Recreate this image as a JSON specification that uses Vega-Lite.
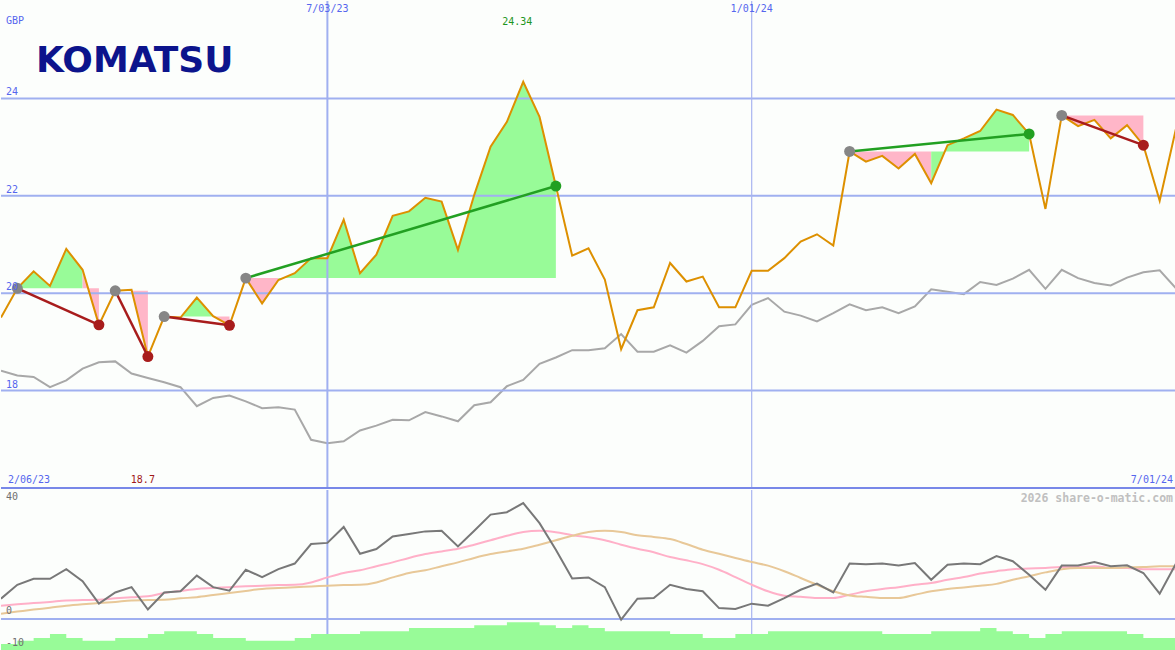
{
"$schema":"https://vega.github.io/schema/vega-lite/v6.json",
"background":"#fcfefc",
"padding":0,
"spacing":0,
"config":{"view":{"stroke":null}},
"datasets":{
"weekly":[
{"d":"2023-02-13","p":19.50,"g":18.41,"m":6.9,"pk":4.5,"tn":1.8,"v":90},
{"d":"2023-02-20","p":20.10,"g":18.31,"m":11.6,"pk":5.0,"tn":2.5,"v":123},
{"d":"2023-02-27","p":20.45,"g":18.28,"m":13.6,"pk":5.4,"tn":3.2,"v":150},
{"d":"2023-03-06","p":20.15,"g":18.07,"m":13.6,"pk":5.8,"tn":3.8,"v":190},
{"d":"2023-03-13","p":20.91,"g":18.21,"m":16.9,"pk":6.3,"tn":4.5,"v":150},
{"d":"2023-03-20","p":20.48,"g":18.45,"m":12.8,"pk":6.4,"tn":5.0,"v":123},
{"d":"2023-03-27","p":19.35,"g":18.58,"m":5.2,"pk":6.5,"tn":5.4,"v":123},
{"d":"2023-04-03","p":20.05,"g":18.60,"m":9.0,"pk":7.0,"tn":5.8,"v":150},
{"d":"2023-04-10","p":20.07,"g":18.35,"m":10.8,"pk":7.4,"tn":6.3,"v":150},
{"d":"2023-04-17","p":18.70,"g":18.26,"m":3.2,"pk":7.7,"tn":6.4,"v":190},
{"d":"2023-04-24","p":19.52,"g":18.17,"m":9.0,"pk":8.8,"tn":6.5,"v":217},
{"d":"2023-05-01","p":19.50,"g":18.07,"m":9.4,"pk":9.5,"tn":7.0,"v":217},
{"d":"2023-05-08","p":19.91,"g":17.68,"m":14.7,"pk":10.2,"tn":7.4,"v":190},
{"d":"2023-05-15","p":19.53,"g":17.85,"m":10.8,"pk":10.5,"tn":8.1,"v":150},
{"d":"2023-05-22","p":19.34,"g":17.90,"m":9.6,"pk":10.8,"tn":8.8,"v":150},
{"d":"2023-05-29","p":20.31,"g":17.78,"m":16.7,"pk":11.1,"tn":9.5,"v":123},
{"d":"2023-06-05","p":19.79,"g":17.64,"m":14.2,"pk":11.3,"tn":10.2,"v":123},
{"d":"2023-06-12","p":20.27,"g":17.66,"m":16.9,"pk":11.5,"tn":10.5,"v":123},
{"d":"2023-06-19","p":20.41,"g":17.61,"m":18.8,"pk":11.6,"tn":10.8,"v":150},
{"d":"2023-06-26","p":20.72,"g":16.99,"m":25.4,"pk":12.4,"tn":11.0,"v":190},
{"d":"2023-07-03","p":20.72,"g":16.92,"m":25.8,"pk":14.1,"tn":11.3,"v":190},
{"d":"2023-07-10","p":21.51,"g":16.96,"m":31.2,"pk":15.6,"tn":11.5,"v":190},
{"d":"2023-07-17","p":20.41,"g":17.18,"m":22.1,"pk":16.5,"tn":11.6,"v":217},
{"d":"2023-07-24","p":20.79,"g":17.28,"m":23.7,"pk":17.9,"tn":12.4,"v":217},
{"d":"2023-07-31","p":21.59,"g":17.40,"m":28.0,"pk":19.2,"tn":14.1,"v":217},
{"d":"2023-08-07","p":21.68,"g":17.39,"m":28.8,"pk":20.7,"tn":15.6,"v":250},
{"d":"2023-08-14","p":21.96,"g":17.56,"m":29.7,"pk":22.0,"tn":16.5,"v":250},
{"d":"2023-08-21","p":21.88,"g":17.47,"m":29.9,"pk":22.9,"tn":17.9,"v":250},
{"d":"2023-08-28","p":20.89,"g":17.37,"m":24.6,"pk":23.8,"tn":19.2,"v":250},
{"d":"2023-09-04","p":22.02,"g":17.70,"m":29.9,"pk":25.2,"tn":20.7,"v":277},
{"d":"2023-09-11","p":23.01,"g":17.76,"m":35.4,"pk":26.7,"tn":22.0,"v":277},
{"d":"2023-09-18","p":23.52,"g":18.09,"m":36.2,"pk":28.2,"tn":22.9,"v":307},
{"d":"2023-09-25","p":24.34,"g":18.22,"m":39.3,"pk":29.5,"tn":23.8,"v":307},
{"d":"2023-10-02","p":23.62,"g":18.55,"m":32.5,"pk":29.9,"tn":25.2,"v":277},
{"d":"2023-10-09","p":22.20,"g":18.68,"m":23.5,"pk":29.4,"tn":26.7,"v":250},
{"d":"2023-10-16","p":20.77,"g":18.83,"m":13.7,"pk":28.4,"tn":28.2,"v":277},
{"d":"2023-10-23","p":20.92,"g":18.83,"m":14.1,"pk":27.7,"tn":29.5,"v":250},
{"d":"2023-10-30","p":20.28,"g":18.87,"m":10.8,"pk":26.7,"tn":29.9,"v":217},
{"d":"2023-11-06","p":18.85,"g":19.16,"m":-0.2,"pk":25.2,"tn":29.5,"v":217},
{"d":"2023-11-13","p":19.65,"g":18.80,"m":6.9,"pk":23.8,"tn":28.4,"v":217},
{"d":"2023-11-20","p":19.71,"g":18.80,"m":7.1,"pk":22.6,"tn":27.8,"v":217},
{"d":"2023-11-27","p":20.62,"g":18.93,"m":11.6,"pk":21.0,"tn":27.1,"v":190},
{"d":"2023-12-04","p":20.24,"g":18.78,"m":10.2,"pk":19.9,"tn":25.4,"v":190},
{"d":"2023-12-11","p":20.34,"g":19.02,"m":9.4,"pk":18.6,"tn":23.5,"v":150},
{"d":"2023-12-18","p":19.71,"g":19.32,"m":3.7,"pk":16.7,"tn":22.1,"v":150},
{"d":"2023-12-25","p":19.71,"g":19.36,"m":3.4,"pk":14.2,"tn":20.7,"v":190},
{"d":"2024-01-01","p":20.46,"g":19.76,"m":5.2,"pk":11.6,"tn":19.3,"v":190},
{"d":"2024-01-08","p":20.46,"g":19.90,"m":4.5,"pk":9.4,"tn":18.1,"v":217},
{"d":"2024-01-15","p":20.72,"g":19.62,"m":7.1,"pk":7.9,"tn":16.2,"v":217},
{"d":"2024-01-22","p":21.06,"g":19.54,"m":9.9,"pk":7.5,"tn":13.9,"v":217},
{"d":"2024-01-29","p":21.21,"g":19.42,"m":12.0,"pk":7.1,"tn":11.6,"v":217},
{"d":"2024-02-05","p":20.98,"g":19.59,"m":9.0,"pk":7.1,"tn":9.4,"v":217},
{"d":"2024-02-12","p":22.91,"g":19.77,"m":18.8,"pk":8.2,"tn":8.0,"v":217},
{"d":"2024-02-19","p":22.70,"g":19.65,"m":18.6,"pk":9.4,"tn":7.5,"v":217},
{"d":"2024-02-26","p":22.82,"g":19.71,"m":18.8,"pk":10.2,"tn":7.1,"v":190},
{"d":"2024-03-04","p":22.56,"g":19.59,"m":18.1,"pk":10.8,"tn":7.1,"v":190},
{"d":"2024-03-11","p":22.86,"g":19.73,"m":19.0,"pk":11.6,"tn":8.2,"v":190},
{"d":"2024-03-18","p":22.26,"g":20.08,"m":13.3,"pk":12.2,"tn":9.4,"v":217},
{"d":"2024-03-25","p":23.04,"g":20.03,"m":18.4,"pk":13.3,"tn":10.2,"v":217},
{"d":"2024-04-01","p":23.18,"g":19.98,"m":18.8,"pk":14.2,"tn":10.7,"v":217},
{"d":"2024-04-08","p":23.33,"g":20.23,"m":18.6,"pk":15.4,"tn":11.3,"v":250},
{"d":"2024-04-15","p":23.77,"g":20.17,"m":21.3,"pk":16.2,"tn":11.9,"v":217},
{"d":"2024-04-22","p":23.66,"g":20.30,"m":19.6,"pk":16.9,"tn":13.3,"v":190},
{"d":"2024-04-29","p":23.27,"g":20.48,"m":15.0,"pk":17.1,"tn":14.5,"v":150},
{"d":"2024-05-06","p":21.73,"g":20.09,"m":9.9,"pk":17.3,"tn":15.8,"v":190},
{"d":"2024-05-13","p":23.65,"g":20.48,"m":18.1,"pk":17.6,"tn":16.9,"v":217},
{"d":"2024-05-20","p":23.43,"g":20.31,"m":18.1,"pk":17.6,"tn":17.3,"v":217},
{"d":"2024-05-27","p":23.56,"g":20.21,"m":19.3,"pk":17.9,"tn":17.3,"v":217},
{"d":"2024-06-03","p":23.18,"g":20.16,"m":17.9,"pk":17.3,"tn":17.3,"v":217},
{"d":"2024-06-10","p":23.45,"g":20.32,"m":18.2,"pk":17.3,"tn":17.5,"v":190},
{"d":"2024-06-17","p":23.04,"g":20.43,"m":15.6,"pk":16.9,"tn":17.6,"v":150},
{"d":"2024-06-24","p":21.90,"g":20.47,"m":8.6,"pk":16.9,"tn":17.9,"v":150},
{"d":"2024-07-01","p":23.38,"g":20.10,"m":18.8,"pk":16.9,"tn":17.9,"v":150}
],
"fills":[
{"run":"r1","c":"up","base":20.10,"d":"2023-02-20","p":20.10},
{"run":"r1","c":"up","base":20.10,"d":"2023-02-27","p":20.45},
{"run":"r1","c":"up","base":20.10,"d":"2023-03-06","p":20.15},
{"run":"r1","c":"up","base":20.10,"d":"2023-03-13","p":20.91},
{"run":"r1","c":"up","base":20.10,"d":"2023-03-20","p":20.48},
{"run":"r2","c":"down","base":20.10,"d":"2023-03-20","p":20.48},
{"run":"r2","c":"down","base":20.10,"d":"2023-03-27","p":19.35},
{"run":"r3","c":"up","base":20.05,"d":"2023-04-03","p":20.05},
{"run":"r3","c":"up","base":20.05,"d":"2023-04-10","p":20.07},
{"run":"r4","c":"down","base":20.05,"d":"2023-04-10","p":20.07},
{"run":"r4","c":"down","base":20.05,"d":"2023-04-17","p":18.70},
{"run":"r5","c":"down","base":19.52,"d":"2023-04-24","p":19.52},
{"run":"r5","c":"down","base":19.52,"d":"2023-05-01","p":19.50},
{"run":"r6","c":"up","base":19.52,"d":"2023-05-01","p":19.50},
{"run":"r6","c":"up","base":19.52,"d":"2023-05-08","p":19.91},
{"run":"r6","c":"up","base":19.52,"d":"2023-05-15","p":19.53},
{"run":"r7","c":"down","base":19.52,"d":"2023-05-15","p":19.53},
{"run":"r7","c":"down","base":19.52,"d":"2023-05-22","p":19.34},
{"run":"r8","c":"down","base":20.31,"d":"2023-05-29","p":20.31},
{"run":"r8","c":"down","base":20.31,"d":"2023-06-05","p":19.79},
{"run":"r8","c":"down","base":20.31,"d":"2023-06-12","p":20.27},
{"run":"r9","c":"up","base":20.31,"d":"2023-06-12","p":20.27},
{"run":"r9","c":"up","base":20.31,"d":"2023-06-19","p":20.41},
{"run":"r9","c":"up","base":20.31,"d":"2023-06-26","p":20.72},
{"run":"r9","c":"up","base":20.31,"d":"2023-07-03","p":20.72},
{"run":"r9","c":"up","base":20.31,"d":"2023-07-10","p":21.51},
{"run":"r9","c":"up","base":20.31,"d":"2023-07-17","p":20.41},
{"run":"r9","c":"up","base":20.31,"d":"2023-07-24","p":20.79},
{"run":"r9","c":"up","base":20.31,"d":"2023-07-31","p":21.59},
{"run":"r9","c":"up","base":20.31,"d":"2023-08-07","p":21.68},
{"run":"r9","c":"up","base":20.31,"d":"2023-08-14","p":21.96},
{"run":"r9","c":"up","base":20.31,"d":"2023-08-21","p":21.88},
{"run":"r9","c":"up","base":20.31,"d":"2023-08-28","p":20.89},
{"run":"r9","c":"up","base":20.31,"d":"2023-09-04","p":22.02},
{"run":"r9","c":"up","base":20.31,"d":"2023-09-11","p":23.01},
{"run":"r9","c":"up","base":20.31,"d":"2023-09-18","p":23.52},
{"run":"r9","c":"up","base":20.31,"d":"2023-09-25","p":24.34},
{"run":"r9","c":"up","base":20.31,"d":"2023-10-02","p":23.62},
{"run":"r9","c":"up","base":20.31,"d":"2023-10-09","p":22.20},
{"run":"r10","c":"down","base":22.91,"d":"2024-02-12","p":22.91},
{"run":"r10","c":"down","base":22.91,"d":"2024-02-19","p":22.70},
{"run":"r10","c":"down","base":22.91,"d":"2024-02-26","p":22.82},
{"run":"r10","c":"down","base":22.91,"d":"2024-03-04","p":22.56},
{"run":"r10","c":"down","base":22.91,"d":"2024-03-11","p":22.86},
{"run":"r10","c":"down","base":22.91,"d":"2024-03-18","p":22.26},
{"run":"r11","c":"up","base":22.91,"d":"2024-03-18","p":22.26},
{"run":"r11","c":"up","base":22.91,"d":"2024-03-25","p":23.04},
{"run":"r11","c":"up","base":22.91,"d":"2024-04-01","p":23.18},
{"run":"r11","c":"up","base":22.91,"d":"2024-04-08","p":23.33},
{"run":"r11","c":"up","base":22.91,"d":"2024-04-15","p":23.77},
{"run":"r11","c":"up","base":22.91,"d":"2024-04-22","p":23.66},
{"run":"r11","c":"up","base":22.91,"d":"2024-04-29","p":23.27},
{"run":"r12","c":"down","base":23.65,"d":"2024-05-13","p":23.65},
{"run":"r12","c":"down","base":23.65,"d":"2024-05-20","p":23.43},
{"run":"r12","c":"down","base":23.65,"d":"2024-05-27","p":23.56},
{"run":"r12","c":"down","base":23.65,"d":"2024-06-03","p":23.18},
{"run":"r12","c":"down","base":23.65,"d":"2024-06-10","p":23.45},
{"run":"r12","c":"down","base":23.65,"d":"2024-06-17","p":23.04}
],
"trades":[
{"t":1,"d":"2023-02-20","p":20.10,"k":"entry","res":"loss"},
{"t":1,"d":"2023-03-27","p":19.35,"k":"loss","res":"loss"},
{"t":2,"d":"2023-04-03","p":20.05,"k":"entry","res":"loss"},
{"t":2,"d":"2023-04-17","p":18.70,"k":"loss","res":"loss"},
{"t":3,"d":"2023-04-24","p":19.52,"k":"entry","res":"loss"},
{"t":3,"d":"2023-05-22","p":19.34,"k":"loss","res":"loss"},
{"t":4,"d":"2023-05-29","p":20.31,"k":"entry","res":"win"},
{"t":4,"d":"2023-10-09","p":22.20,"k":"win","res":"win"},
{"t":5,"d":"2024-02-12","p":22.91,"k":"entry","res":"win"},
{"t":5,"d":"2024-04-29","p":23.27,"k":"win","res":"win"},
{"t":6,"d":"2024-05-13","p":23.65,"k":"entry","res":"loss"},
{"t":6,"d":"2024-06-17","p":23.04,"k":"loss","res":"loss"}
]
},
"vconcat":[
{
"width":1175,"height":487,
"resolve":{"scale":{"color":"independent"}},
"layer":[
{"data":{"name":"weekly"},"mark":{"type":"line","color":"#a8a8a8","strokeWidth":2,"clip":true},
 "encoding":{
  "x":{"field":"d","type":"temporal","scale":{"domain":[1676246400000,1719792000000]},"axis":null},
  "y":{"field":"g","type":"quantitative","scale":{"domain":[16,26],"nice":false,"zero":false},"axis":null}}},
{"data":{"name":"fills"},"mark":{"type":"area","opacity":1},
 "encoding":{
  "x":{"field":"d","type":"temporal","scale":{"domain":[1676246400000,1719792000000]},"axis":null},
  "y":{"field":"p","type":"quantitative","stack":null,"scale":{"domain":[16,26],"nice":false,"zero":false},"axis":null},
  "y2":{"field":"base"},
  "color":{"field":"c","type":"nominal","scale":{"domain":["up","down"],"range":["#98fb98","#ffb6c8"]},"legend":null},
  "detail":{"field":"run","type":"nominal"}}},
{"data":{"values":[{"y":18},{"y":20},{"y":22},{"y":24}]},"mark":{"type":"rule","color":"#a0b0f0","strokeWidth":2},
 "encoding":{"y":{"field":"y","type":"quantitative","scale":{"domain":[16,26],"nice":false,"zero":false},"axis":null}}},
{"data":{"values":[{"d":"2023-07-03"}]},"mark":{"type":"rule","color":"#a0b0f0","strokeWidth":2},
 "encoding":{"x":{"field":"d","type":"temporal","scale":{"domain":[1676246400000,1719792000000]},"axis":null}}},
{"data":{"values":[{"d":"2024-01-01"}]},"mark":{"type":"rule","color":"#a8b4f0","strokeWidth":1.2},
 "encoding":{"x":{"field":"d","type":"temporal","scale":{"domain":[1676246400000,1719792000000]},"axis":null}}},
{"data":{"values":[{"y":16}]},"mark":{"type":"rule","color":"#7888e8","strokeWidth":2},
 "encoding":{"y":{"field":"y","type":"quantitative","scale":{"domain":[16,26],"nice":false,"zero":false},"axis":null}}},
{"data":{"name":"weekly"},"mark":{"type":"line","color":"#dd9000","strokeWidth":2,"clip":true},
 "encoding":{
  "x":{"field":"d","type":"temporal","scale":{"domain":[1676246400000,1719792000000]},"axis":null},
  "y":{"field":"p","type":"quantitative","scale":{"domain":[16,26],"nice":false,"zero":false},"axis":null}}},
{"data":{"name":"trades"},"mark":{"type":"line","strokeWidth":2.5},
 "encoding":{
  "x":{"field":"d","type":"temporal","scale":{"domain":[1676246400000,1719792000000]},"axis":null},
  "y":{"field":"p","type":"quantitative","scale":{"domain":[16,26],"nice":false,"zero":false},"axis":null},
  "detail":{"field":"t","type":"nominal"},
  "color":{"field":"res","type":"nominal","scale":{"domain":["win","loss"],"range":["#22a022","#a81c1c"]},"legend":null}}},
{"data":{"name":"trades"},"mark":{"type":"point","filled":true,"size":120,"opacity":1},
 "encoding":{
  "x":{"field":"d","type":"temporal","scale":{"domain":[1676246400000,1719792000000]},"axis":null},
  "y":{"field":"p","type":"quantitative","scale":{"domain":[16,26],"nice":false,"zero":false},"axis":null},
  "color":{"field":"k","type":"nominal","scale":{"domain":["entry","win","loss"],"range":["#868686","#22a022","#a81c1c"]},"legend":null}}},
{"data":{"values":[{"y":18,"t":"18"},{"y":20,"t":"20"},{"y":22,"t":"22"},{"y":24,"t":"24"}]},"mark":{"type":"text","align":"left","baseline":"bottom","dx":5,"dy":-1,"font":"DejaVu Sans Mono","fontSize":10,"color":"#5566ee"},
 "encoding":{"x":{"datum":{"year":2023,"month":2,"date":13,"utc":true},"type":"temporal","axis":null},"y":{"field":"y","type":"quantitative","axis":null},"text":{"field":"t"}}},
{"data":{"values":[{"d":"2023-07-03","t":"7/03/23"},{"d":"2024-01-01","t":"1/01/24"}]},"mark":{"type":"text","align":"center","baseline":"top","dy":3,"font":"DejaVu Sans Mono","fontSize":10,"color":"#5566ee"},
 "encoding":{"x":{"field":"d","type":"temporal","axis":null},"y":{"datum":26,"type":"quantitative","axis":null},"text":{"field":"t"}}},
{"data":{"values":[{"t":"GBP","d":"2023-02-13"}]},"mark":{"type":"text","align":"left","baseline":"middle","dx":5,"dy":20,"font":"DejaVu Sans Mono","fontSize":10,"color":"#5566ee"},
 "encoding":{"x":{"field":"d","type":"temporal","axis":null},"y":{"datum":26,"type":"quantitative","axis":null},"text":{"field":"t"}}},
{"data":{"values":[{"t":"KOMATSU","d":"2023-02-13"}]},"mark":{"type":"text","align":"left","baseline":"alphabetic","dx":35,"dy":71,"font":"DejaVu Sans","fontWeight":"bold","fontSize":36,"color":"#0c148c"},
 "encoding":{"x":{"field":"d","type":"temporal","axis":null},"y":{"datum":26,"type":"quantitative","axis":null},"text":{"field":"t"}}},
{"data":{"values":[{"t":"24.34","d":"2023-09-25"}]},"mark":{"type":"text","align":"center","baseline":"middle","dx":-6,"dy":21,"font":"DejaVu Sans Mono","fontSize":10,"color":"#1e961e"},
 "encoding":{"x":{"field":"d","type":"temporal","axis":null},"y":{"datum":26,"type":"quantitative","axis":null},"text":{"field":"t"}}},
{"data":{"values":[{"t":"18.7","d":"2023-04-17"}]},"mark":{"type":"text","align":"center","baseline":"middle","dx":-5,"dy":-8,"font":"DejaVu Sans Mono","fontSize":10,"color":"#a01818"},
 "encoding":{"x":{"field":"d","type":"temporal","axis":null},"y":{"datum":16,"type":"quantitative","axis":null},"text":{"field":"t"}}},
{"data":{"values":[{"t":"2/06/23","d":"2023-02-13"}]},"mark":{"type":"text","align":"left","baseline":"middle","dx":7,"dy":-8,"font":"DejaVu Sans Mono","fontSize":10,"color":"#5566ee"},
 "encoding":{"x":{"field":"d","type":"temporal","axis":null},"y":{"datum":16,"type":"quantitative","axis":null},"text":{"field":"t"}}},
{"data":{"values":[{"t":"7/01/24","d":"2024-07-01"}]},"mark":{"type":"text","align":"right","baseline":"middle","dx":-3,"dy":-8,"font":"DejaVu Sans Mono","fontSize":10,"color":"#5566ee"},
 "encoding":{"x":{"field":"d","type":"temporal","axis":null},"y":{"datum":16,"type":"quantitative","axis":null},"text":{"field":"t"}}}
]
},
{
"width":1175,"height":163,
"resolve":{"scale":{"y":"independent"}},
"layer":[
{"data":{"values":[{"d":"2023-07-03"}]},"mark":{"type":"rule","color":"#a0b0f0","strokeWidth":2},
 "encoding":{"x":{"field":"d","type":"temporal","scale":{"domain":[1676246400000,1719792000000]},"axis":null}}},
{"data":{"values":[{"d":"2024-01-01"}]},"mark":{"type":"rule","color":"#a8b4f0","strokeWidth":1.2},
 "encoding":{"x":{"field":"d","type":"temporal","scale":{"domain":[1676246400000,1719792000000]},"axis":null}}},
{"data":{"name":"weekly"},"mark":{"type":"area","interpolate":"step-after","color":"#98fb98","opacity":1},
 "encoding":{
  "x":{"field":"d","type":"temporal","scale":{"domain":[1676246400000,1719792000000]},"axis":null},
  "y":{"field":"v","type":"quantitative","scale":{"domain":[0,1630],"nice":false},"axis":null}}},
{"layer":[
 {"data":{"values":[{"z":0}]},"mark":{"type":"rule","color":"#a0b0f0","strokeWidth":2},
  "encoding":{"y":{"field":"z","type":"quantitative","scale":{"domain":[-11.53,43.73],"nice":false,"zero":false},"axis":null}}},
 {"data":{"name":"weekly"},"mark":{"type":"line","color":"#ffb0c8","strokeWidth":2,"interpolate":"monotone","clip":true},
  "encoding":{
   "x":{"field":"d","type":"temporal","scale":{"domain":[1676246400000,1719792000000]},"axis":null},
   "y":{"field":"pk","type":"quantitative","scale":{"domain":[-11.53,43.73],"nice":false,"zero":false},"axis":null}}},
 {"data":{"name":"weekly"},"mark":{"type":"line","color":"#e8c898","strokeWidth":2,"interpolate":"monotone","clip":true},
  "encoding":{
   "x":{"field":"d","type":"temporal","scale":{"domain":[1676246400000,1719792000000]},"axis":null},
   "y":{"field":"tn","type":"quantitative","scale":{"domain":[-11.53,43.73],"nice":false,"zero":false},"axis":null}}},
 {"data":{"name":"weekly"},"mark":{"type":"line","color":"#787878","strokeWidth":2,"clip":true},
  "encoding":{
   "x":{"field":"d","type":"temporal","scale":{"domain":[1676246400000,1719792000000]},"axis":null},
   "y":{"field":"m","type":"quantitative","scale":{"domain":[-11.53,43.73],"nice":false,"zero":false},"axis":null}}},
 {"data":{"values":[{"y":0,"t":"0"}]},"mark":{"type":"text","align":"left","baseline":"bottom","dx":5,"dy":-3,"font":"DejaVu Sans Mono","fontSize":10,"color":"#707070"},
  "encoding":{"x":{"datum":{"year":2023,"month":2,"date":13,"utc":true},"type":"temporal","axis":null},"y":{"field":"y","type":"quantitative","axis":null},"text":{"field":"t"}}},
 {"data":{"values":[{"y":-10,"t":"-10"}]},"mark":{"type":"text","align":"left","baseline":"bottom","dx":5,"font":"DejaVu Sans Mono","fontSize":10,"color":"#707070"},
  "encoding":{"x":{"datum":{"year":2023,"month":2,"date":13,"utc":true},"type":"temporal","axis":null},"y":{"field":"y","type":"quantitative","axis":null},"text":{"field":"t"}}},
 {"data":{"values":[{"y":40,"t":"40"}]},"mark":{"type":"text","align":"left","baseline":"middle","dx":5,"dy":-4,"font":"DejaVu Sans Mono","fontSize":10,"color":"#707070"},
  "encoding":{"x":{"datum":{"year":2023,"month":2,"date":13,"utc":true},"type":"temporal","axis":null},"y":{"field":"y","type":"quantitative","axis":null},"text":{"field":"t"}}},
 {"data":{"values":[{"t":"2026 share-o-matic.com","d":"2024-07-01"}]},"mark":{"type":"text","align":"right","baseline":"middle","dx":-3,"dy":9,"font":"DejaVu Sans Mono","fontWeight":"bold","fontSize":11.5,"color":"#c0c0c0"},
  "encoding":{"x":{"field":"d","type":"temporal","scale":{"domain":[1676246400000,1719792000000]},"axis":null},"y":{"datum":43.73,"type":"quantitative","axis":null},"text":{"field":"t"}}}
]}
]
}
]
}
